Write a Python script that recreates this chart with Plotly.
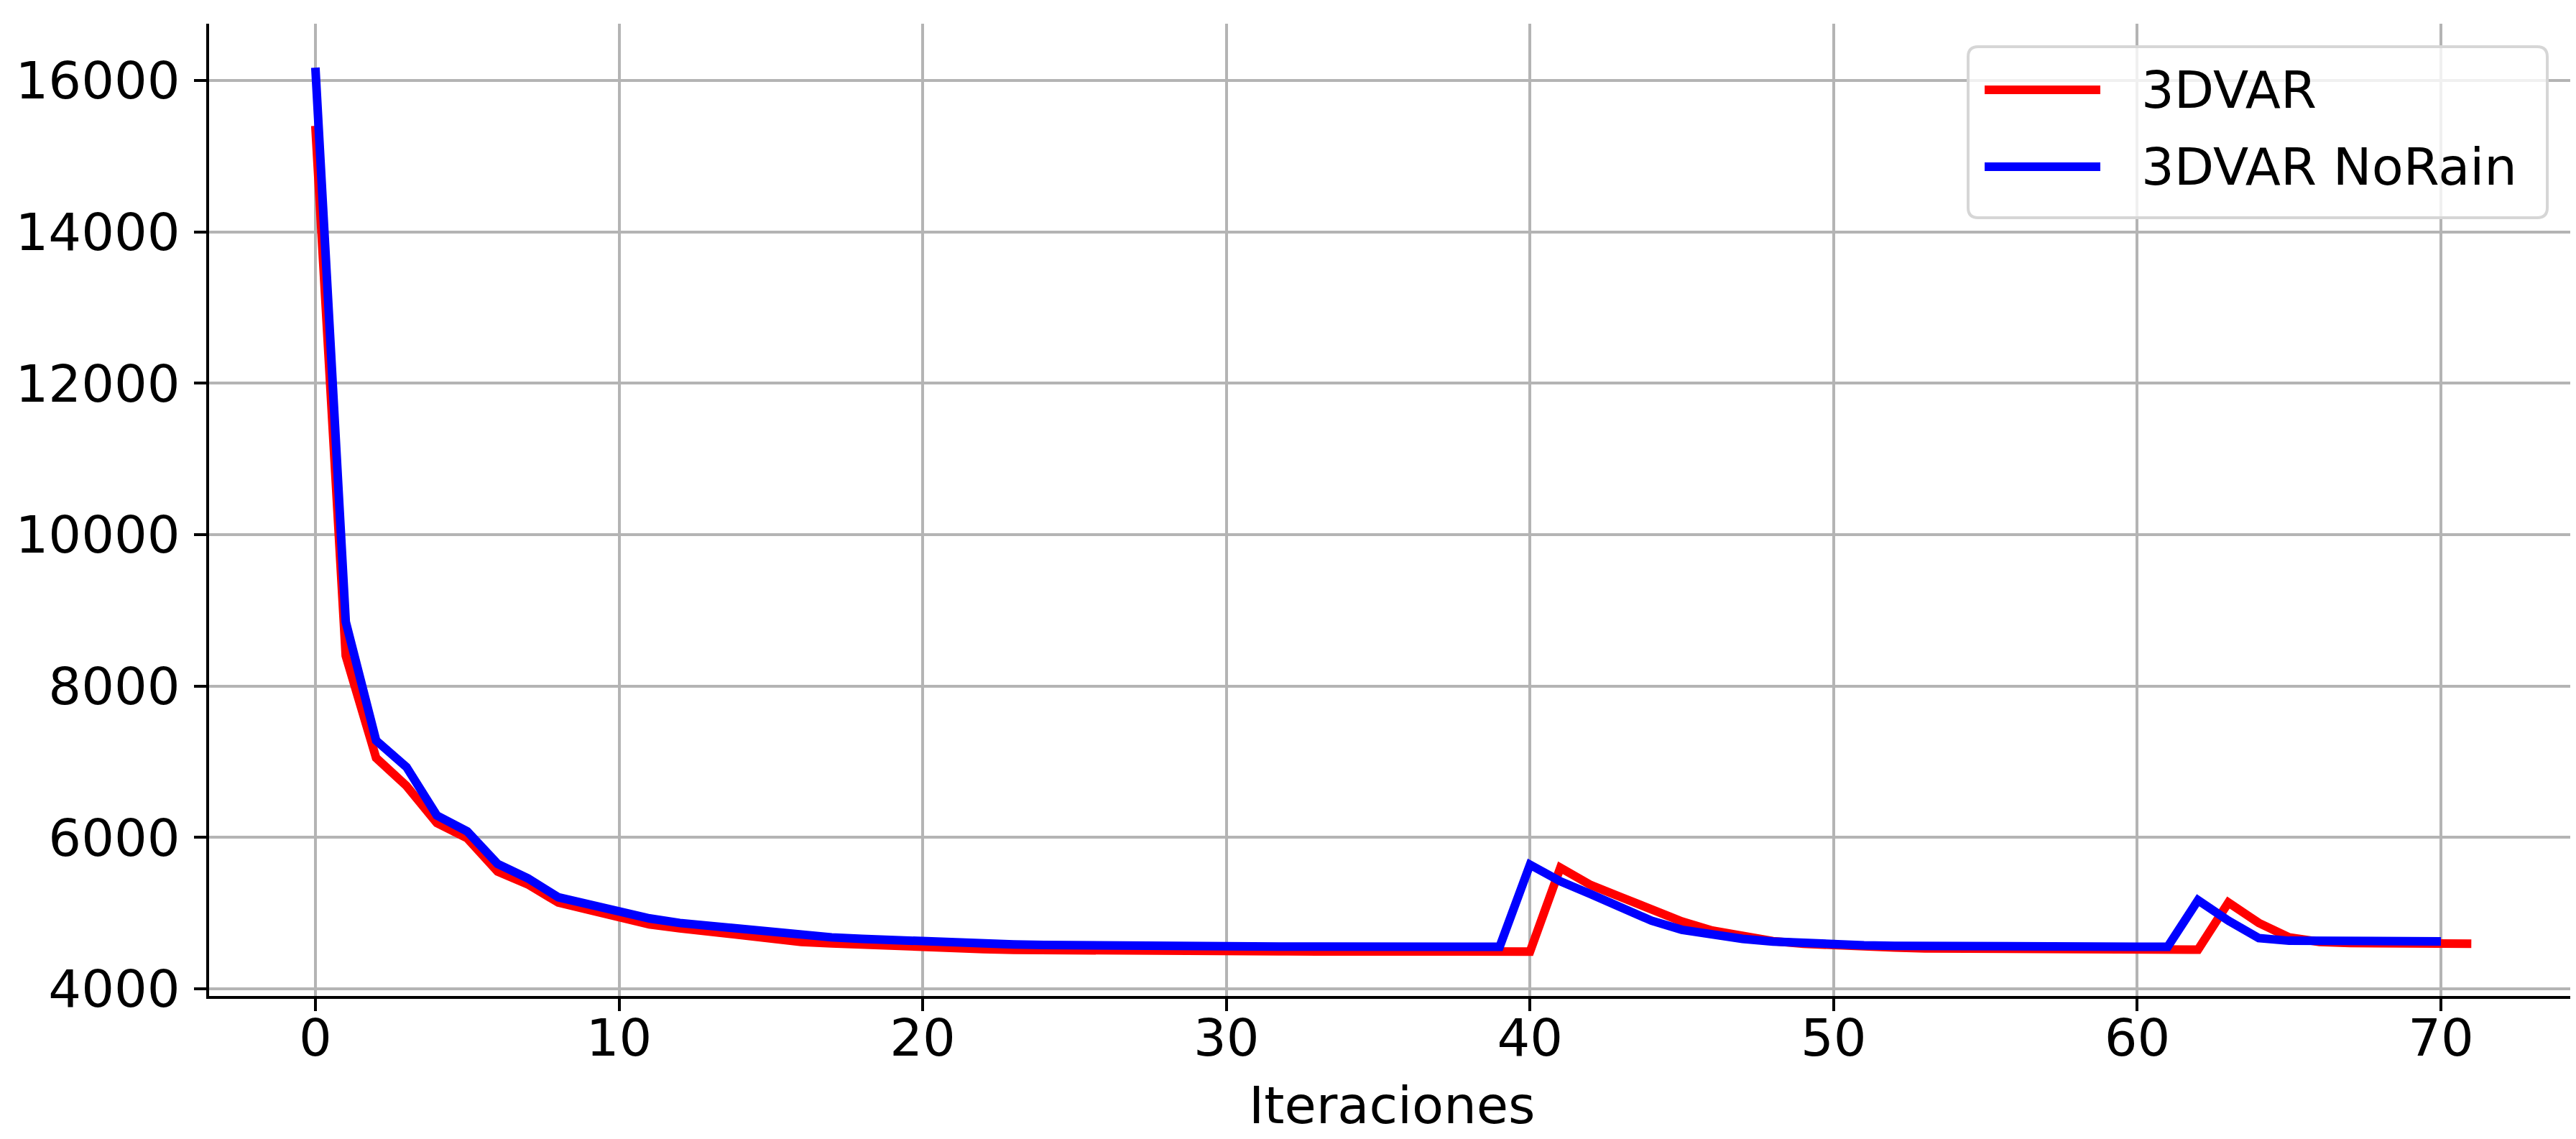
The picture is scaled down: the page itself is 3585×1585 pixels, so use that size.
import plotly.graph_objects as go

# ---- data ----
iter_red = list(range(0, 72))
red_3dvar = [15400, 8400, 7050, 6680, 6190, 5990, 5550, 5380, 5140, 5050,
             4960, 4850, 4800, 4750, 4700, 4650, 4620, 4600, 4580, 4560,
             4545, 4535, 4525, 4515, 4510, 4505, 4500, 4500, 4498, 4497,
             4496, 4495, 4495, 4494, 4494, 4493, 4493, 4492, 4492, 4492,
             4492, 5600, 5370, 5210, 5050, 4890, 4770, 4690, 4630, 4595,
             4570, 4555, 4545, 4535, 4530, 4528, 4525, 4522, 4520, 4519,
             4518, 4517, 4517, 5140, 4870, 4680, 4620, 4605, 4600, 4598,
             4597, 4596]

iter_blue = list(range(0, 71))
blue_norain = [16170, 8850, 7280, 6930, 6290, 6080, 5650, 5460, 5210, 5110,
               5030, 4930, 4870, 4830, 4790, 4740, 4710, 4680, 4660, 4640,
               4620, 4605, 4595, 4585, 4578, 4572, 4568, 4565, 4562, 4560,
               4559, 4558, 4558, 4557, 4557, 4556, 4556, 4556, 4555, 4555,
               5640, 5420, 5250, 5070, 4900, 4780, 4710, 4660, 4625, 4600,
               4585, 4575, 4568, 4563, 4560, 4558, 4557, 4556, 4555, 4555,
               4555, 4555, 5170, 4900, 4670, 4635, 4630, 4628, 4627, 4627,
               4627]

series_names = ["3DVAR", "3DVAR NoRain"]
x_ticks = [0, 10, 20, 30, 40, 50, 60, 70]
y_ticks = [4000, 6000, 8000, 10000, 12000, 14000, 16000]
x_title = "Iteraciones"

# ---- figure ----
W, H = 3585, 1585
L, R, T, B = 283, 10, 25, 207
pw, ph = W - L - R, H - T - B
FONT = "DejaVu Sans"
FS = 72

def px(xp):
    return (xp - L) / pw

def py(yp):
    return (H - B - yp) / ph

fig = go.Figure()
fig.add_trace(go.Scatter(x=iter_red, y=red_3dvar, mode="lines", name=series_names[0],
                         line=dict(color="#ff0000", width=12), showlegend=False))
fig.add_trace(go.Scatter(x=iter_blue, y=blue_norain, mode="lines", name=series_names[1],
                         line=dict(color="#0000ff", width=12), showlegend=False))

axis_common = dict(showgrid=True, gridcolor="#b4b4b4", gridwidth=4,
                   showline=True, linecolor="black", linewidth=4,
                   ticks="outside", ticklen=17, tickwidth=4, tickcolor="black",
                   zeroline=False, automargin=False,
                   tickfont=dict(family=FONT, size=FS, color="black"))

fig.update_xaxes(range=[-3.5, 74.4], tickvals=x_ticks, ticktext=[str(v) for v in x_ticks],
                 ticklabelstandoff=-24, **axis_common)
fig.update_yaxes(range=[3905, 16750], tickvals=y_ticks, ticktext=[str(v) for v in y_ticks],
                 ticklabelstandoff=5, **axis_common)

# custom legend (matplotlib style)
x0, x1 = px(2731), px(3537)
y0, y1 = py(295), py(57)
rx, ry = 14 / pw, 14 / ph
path = (f"M{x0+rx},{y0} L{x1-rx},{y0} Q{x1},{y0} {x1},{y0+ry} L{x1},{y1-ry} "
        f"Q{x1},{y1} {x1-rx},{y1} L{x0+rx},{y1} Q{x0},{y1} {x0},{y1-ry} "
        f"L{x0},{y0+ry} Q{x0},{y0} {x0+rx},{y0} Z")
shapes = [dict(type="path", xref="paper", yref="paper", path=path,
               fillcolor="rgba(255,255,255,0.8)", line=dict(color="#d6d6d6", width=4), layer="above")]
colors = ["#ff0000", "#0000ff"]
rows = [117, 224]
annotations = []
for name, c, r in zip(series_names, colors, rows):
    shapes.append(dict(type="line", xref="paper", yref="paper",
                       x0=px(2754), x1=px(2915), y0=py(r), y1=py(r),
                       line=dict(color=c, width=12), layer="above"))
    annotations.append(dict(xref="paper", yref="paper", x=px(2970), y=py(r),
                            xanchor="left", yanchor="middle", showarrow=False,
                            text=name, font=dict(family=FONT, size=FS, color="black")))

# x-axis title
annotations.append(dict(xref="paper", yref="paper", x=0.5, y=py(1530),
                        xanchor="center", yanchor="middle", showarrow=False,
                        text=x_title, font=dict(family=FONT, size=FS, color="black")))

fig.update_layout(width=W, height=H, margin=dict(l=L, r=R, t=T, b=B, pad=0, autoexpand=False),
                  paper_bgcolor="white", plot_bgcolor="white",
                  font=dict(family=FONT, size=FS, color="black"),
                  shapes=shapes, annotations=annotations, showlegend=False)

fig.write_html("out.html")
